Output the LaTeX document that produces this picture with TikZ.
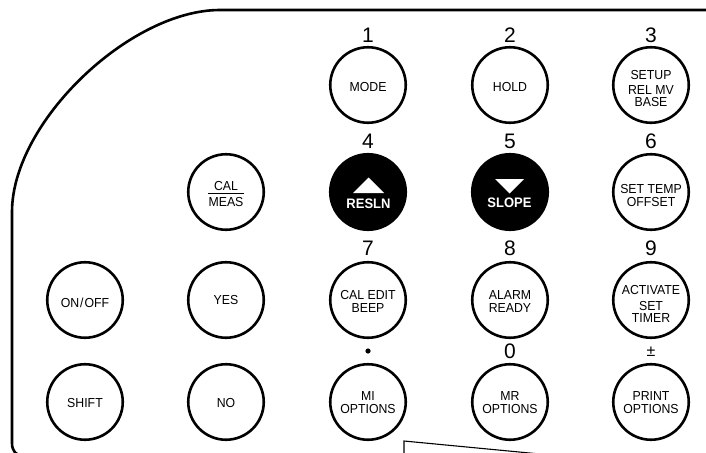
\documentclass[tikz,border=0pt]{standalone}
\usepackage{fontspec}
\setmainfont{Liberation Sans}
\usepackage{graphicx}
\newcommand{\kt}[1]{\scalebox{1}[1.06]{#1}}
\begin{document}
\begin{tikzpicture}[x=1pt,y=-1pt,
  key/.style={circle,draw=black,line width=2.6pt,minimum size=75.5pt,inner sep=0pt,fill=white},
  dark/.style={key,fill=black},
  lbl/.style={inner sep=0pt,text depth=0pt,font=\fontsize{12.3}{12.3}\selectfont},
  wlbl/.style={inner sep=0pt,text depth=0pt,text=white,font=\fontsize{13}{13}\selectfont\bfseries},
  num/.style={inner sep=0pt,text depth=0pt,font=\fontsize{21}{21}\selectfont},
  outline/.style={line width=2.6pt,line join=round},
  thin/.style={line width=1.1pt}]
\useasboundingbox (0,0) rectangle (706,452);
\clip (0,0) rectangle (706,452);
% casing outline
\coordinate (tr) at (720,10);
\coordinate (tl) at (220,10);
\coordinate (lt) at (12,212);
\coordinate (lb) at (12,443);
\coordinate (bl) at (24,456);
\coordinate (br) at (420,456);
\draw[outline] (tr) -- (tl) .. controls (130,10) and (12,122) .. (lt) -- (lb) .. controls (12,451) and (16,456) .. (bl) -- (br);
% bottom thin line
\coordinate (d1) at (404,455);
\coordinate (d2) at (404,441);
\coordinate (d3) at (540,454);
\draw[thin] (d1) -- (d2) -- (d3);

% row 1
\node[key] (mode) at (368,85) {};
\node[key] (hold) at (510,85) {};
\node[key] (setup) at (651,85) {};
\node[num] (n1) at (368,35) {1};
\node[num] (n2) at (510,35) {2};
\node[num] (n3) at (651,35) {3};
\node[lbl] at (368,87) {\kt{MODE}};
\node[lbl] at (510,87) {\kt{HOLD}};
\node[lbl] at (651,75) {\kt{SETUP}};
\node[lbl] at (651,90.5) {\kt{REL MV}};
\node[lbl] at (651,102) {\kt{BASE}};

% row 2
\node[key] (calmeas) at (226,192) {};
\node[dark] (resln) at (368,192) {};
\node[dark] (slope) at (510,192) {};
\node[key] (settemp) at (651,192) {};
\node[num] (n4) at (368,141) {4};
\node[num] (n5) at (510,141) {5};
\node[num] (n6) at (651,141) {6};
\node[lbl] at (226,186) {\kt{CAL}};
\draw[line width=0.9pt] (208,193.5) -- (244,193.5);
\node[lbl] at (226,202) {\kt{MEAS}};
\fill[white] (368.5,177.5) -- (384,193) -- (353,193) -- cycle;
\node[wlbl] at (368.5,204) {\kt{RESLN}};
\fill[white] (495,179) -- (524,179) -- (509.5,193.5) -- cycle;
\node[wlbl] at (509.5,203) {\kt{SLOPE}};
\node[lbl] at (651,189) {\kt{SET TEMP}};
\node[lbl] at (651,201.5) {\kt{OFFSET}};

% row 3
\node[key] (onoff) at (85,300) {};
\node[key] (yes) at (226,300) {};
\node[key] (caledit) at (368,300) {};
\node[key] (alarm) at (510,300) {};
\node[key] (activate) at (651,300) {};
\node[num] (n7) at (368,248.5) {7};
\node[num] (n8) at (510,248.5) {8};
\node[num] (n9) at (651,248.5) {9};
\node[lbl] at (85,303) {\kt{ON\kern1pt/\kern1pt OFF}};
\node[lbl] at (226,300) {\kt{YES}};
\node[lbl] at (368,295) {\kt{CAL EDIT}};
\node[lbl] at (368,308) {\kt{BEEP}};
\node[lbl] at (510,295.5) {\kt{ALARM}};
\node[lbl] at (510,308) {\kt{READY}};
\node[lbl] at (651,290) {\kt{ACTIVATE}};
\node[lbl] at (651,306) {\kt{SET}};
\node[lbl] at (651,318) {\kt{TIMER}};

% row 4
\node[key] (shift) at (85,402) {};
\node[key] (no) at (226,402) {};
\node[key] (mi) at (368,402) {};
\node[key] (mr) at (510,402) {};
\node[key] (print) at (651,402) {};
\fill (368,351) circle[radius=2.6];
\node[num] (n0) at (510,351) {0};
\node[inner sep=0pt,font=\fontsize{16}{16}\selectfont] (npm) at (651,352) {±};
\node[lbl] at (85,403) {\kt{SHIFT}};
\node[lbl] at (226,403) {\kt{NO}};
\node[lbl] at (368,396.5) {\kt{MI}};
\node[lbl] at (368,408.5) {\kt{OPTIONS}};
\node[lbl] at (510,396.5) {\kt{MR}};
\node[lbl] at (510,408.5) {\kt{OPTIONS}};
\node[lbl] at (651,396.5) {\kt{PRINT}};
\node[lbl] at (651,408.5) {\kt{OPTIONS}};
\end{tikzpicture}
\end{document}
